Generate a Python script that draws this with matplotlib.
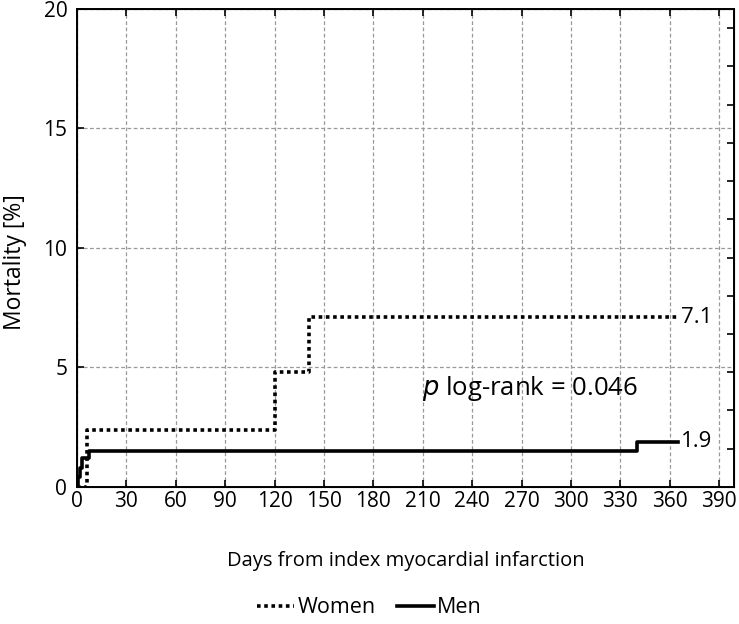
import numpy as np
import matplotlib.pyplot as plt

plt.rcParams['font.family'] = ['Open Sans', 'DejaVu Sans']

# Kaplan-Meier style cumulative mortality
women_days = [0, 6, 120, 141, 365]
women_mort = [0, 2.4, 4.8, 7.1, 7.1]
men_days = [0, 0.5, 2, 3, 7, 340, 365]
men_mort = [0, 0.4, 0.8, 1.2, 1.5, 1.9, 1.9]

x_ticks = list(range(0, 391, 30))
y_ticks = [0, 5, 10, 15, 20]

fig = plt.figure(figsize=(7.39, 6.24), dpi=100)
ax = fig.add_axes([0.1042, 0.2196, 0.8890, 0.7660])

ax.step(women_days, women_mort, where='post', color='black', lw=2.6,
        linestyle=(0, (1, 1)), label='Women')
ax.step(men_days, men_mort, where='post', color='black', lw=2.6,
        label='Men')

# end labels
ax.text(women_days[-1] + 2, women_mort[-1], '7.1', fontsize=16,
        va='center', ha='left')
ax.text(men_days[-1] + 2, men_mort[-1], '1.9', fontsize=16,
        va='center', ha='left')
ax.text(0.69, 0.205, r'$\it{p}$ log-rank = 0.046', transform=ax.transAxes,
        fontsize=18.5, ha='center', va='center')

ax.set_xlim(0, 399)
ax.set_ylim(0, 20)
ax.set_xticks(x_ticks)
ax.set_yticks(y_ticks)
ax.grid(True, color='#999999', linestyle=(0, (3, 2)), lw=0.9)
ax.tick_params(axis='both', direction='in', length=5, width=1.2,
               labelsize=15, top=True)
ax.tick_params(axis='y', right=False, pad=7)
ax.tick_params(axis='x', pad=3)
for s in ax.spines.values():
    s.set_linewidth(1.4)

# right-hand ticks without labels
ax2 = ax.twinx()
ax2.set_ylim(0, 20)
ax2.set_yticks(np.arange(1.6, 20, 1.6))
ax2.tick_params(axis='y', direction='in', length=5, width=1.2, labelright=False)

ax.set_xlabel('Days from index myocardial infarction', fontsize=14.5, labelpad=28)
ax.set_ylabel('Mortality [%]', fontsize=16.5)
ax.yaxis.set_label_coords(-0.076, 0.47)

fig.legend(loc='lower center', ncol=2, frameon=False, fontsize=15.5,
           handlelength=1.7, handletextpad=0.15, columnspacing=1.0,
           bbox_to_anchor=(0.5, -0.022))

fig.savefig('out.png', dpi=100)
